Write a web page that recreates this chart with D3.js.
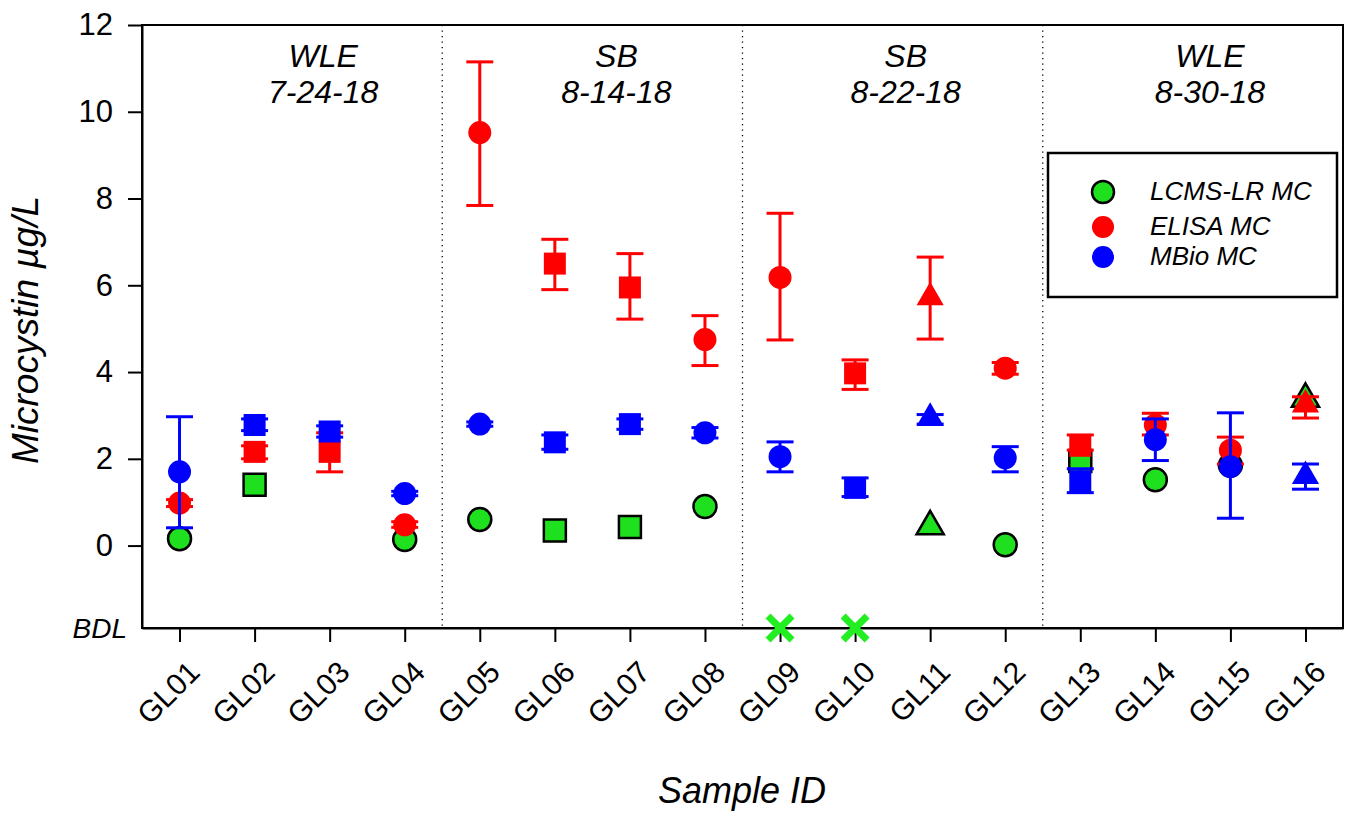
<!DOCTYPE html>
<html><head><meta charset="utf-8">
<script src="https://cdn.jsdelivr.net/npm/d3@7"></script>
<style>
body{margin:0;background:#fff}
svg text{font-family:"Liberation Sans",Arial,sans-serif;fill:#000}
</style>
</head><body>
<svg id="chart" width="1346" height="814"></svg>
<script>
// ---------------- data ----------------
const samples = ["GL01","GL02","GL03","GL04","GL05","GL06","GL07","GL08","GL09","GL10","GL11","GL12","GL13","GL14","GL15","GL16"];
const shapes  = ["circle","square","square","circle","circle","square","square","circle","circle","square","triangle","circle","square","circle","circle","triangle"];
// LCMS-LR MC (null = not shown, "BDL" = below detection limit)
const lcms    = [0.16,1.40,null,0.14,0.60,0.35,0.43,0.90,"BDL","BDL",0.44,0.02,1.95,1.52,1.85,3.38];
// ELISA MC
const elisa   = [0.98,2.16,2.16,0.48,9.52,6.50,5.95,4.75,6.18,3.97,5.72,4.09,2.30,2.78,2.20,3.25];
const elisaLo = [0.90,2.00,1.70,0.42,7.84,5.90,5.22,4.15,4.74,3.60,4.76,3.95,2.20,2.55,1.88,2.94];
const elisaHi = [1.06,2.30,2.60,0.55,11.15,7.06,6.73,5.30,7.66,4.28,6.65,4.22,2.55,3.05,2.50,3.43];
// MBio MC
const mbio    = [1.70,2.78,2.63,1.20,2.80,2.38,2.80,2.60,2.05,1.33,2.94,2.02,1.48,2.44,1.82,1.60];
const mbioLo  = [0.41,2.65,2.50,1.15,2.75,2.22,2.68,2.48,1.70,1.13,2.80,1.70,1.22,1.96,0.63,1.30];
const mbioHi  = [2.97,2.92,2.76,1.25,2.85,2.55,2.92,2.72,2.39,1.56,3.02,2.28,1.77,2.92,3.06,1.88];
const yTicks  = [0,2,4,6,8,10,12];
const bdlValue = -1.9;
const groupSites = ["WLE","SB","SB","WLE"];
const groupDates = ["7-24-18","8-14-18","8-22-18","8-30-18"];
const groupSize = 4;
const seriesNames = ["LCMS-LR MC","ELISA MC","MBio MC"];
const seriesColors = ["#1ee01e","#ff0000","#0000ff"];

// ---------------- layout ----------------
const L = 142, R = 1343, T = 25, B = 628;
const svg = d3.select("#chart");
const x = d3.scalePoint().domain(samples).range([L, R]).padding(0.5);
const y = d3.scaleLinear().domain([bdlValue, 12]).range([B, T]);
const step = x.step();

// box
svg.append("rect").attr("x", L).attr("y", T).attr("width", R - L).attr("height", B - T)
  .attr("fill", "none").attr("stroke", "#000").attr("stroke-width", 2);

// group dividers
for (let g = 1; g < groupSites.length; g++) {
  const xv = x(samples[g * groupSize]) - step / 2;
  svg.append("line").attr("x1", xv).attr("x2", xv).attr("y1", T).attr("y2", B)
    .attr("stroke", "#000").attr("stroke-width", 1.3).attr("stroke-dasharray", "1.3,4.2");
}

// group labels (slightly right of panel centres, as in original)
const labelShift = [31, 24, 13, 17];
groupSites.forEach((s, g) => {
  const cx = (x(samples[g * groupSize]) + x(samples[g * groupSize + groupSize - 1])) / 2 + labelShift[g];
  svg.append("text").attr("x", cx).attr("y", 67).attr("text-anchor", "middle")
    .attr("font-size", 32).attr("font-style", "italic").text(s);
  svg.append("text").attr("x", cx).attr("y", 103).attr("text-anchor", "middle")
    .attr("font-size", 32).attr("font-style", "italic").text(groupDates[g]);
});

// y axis
const yAxis = d3.axisLeft(y).tickValues(yTicks).tickSize(14).tickSizeOuter(0).tickPadding(15);
const ya = svg.append("g").attr("transform", `translate(${L},0)`).call(yAxis);
ya.select(".domain").attr("stroke-width", 2);
ya.selectAll(".tick line").attr("stroke-width", 2);
ya.selectAll(".tick text").attr("font-size", 31).attr("font-family", "Liberation Sans, Arial, sans-serif").attr("fill", "#000");
svg.append("text").attr("x", L - 15).attr("y", y(bdlValue)).attr("dy", "0.36em")
  .attr("text-anchor", "end").attr("font-size", 28).attr("font-style", "italic").text("BDL");

// x axis
const xAxis = d3.axisBottom(x).tickSize(14).tickSizeOuter(0).tickFormat("");
const xa = svg.append("g").attr("transform", `translate(0,${B})`).call(xAxis);
xa.select(".domain").attr("stroke-width", 2);
xa.selectAll(".tick line").attr("stroke-width", 2);
svg.append("g").selectAll("text").data(samples).join("text")
  .attr("transform", d => `translate(${x(d) + 22},${B + 46}) rotate(-45)`)
  .attr("text-anchor", "end").attr("font-size", 30).text(d => d);

// axis titles
svg.append("text").attr("x", 742).attr("y", 803).attr("text-anchor", "middle")
  .attr("font-size", 36).attr("font-style", "italic").text("Sample ID");
svg.append("text").attr("transform", "translate(38,330) rotate(-90)").attr("text-anchor", "middle")
  .attr("font-size", 37).attr("font-style", "italic").text("Microcystin µg/L");

// marker helper
const symType = {circle: d3.symbolCircle, square: d3.symbolSquare, triangle: d3.symbolTriangle};
const symSize = {circle: 415, square: 484, triangle: 320};
function marker(g, shape, cx, cy, color, outline) {
  g.append("path").attr("d", d3.symbol(symType[shape], symSize[shape])())
    .attr("transform", `translate(${cx},${cy})`)
    .attr("fill", color)
    .attr("stroke", outline ? "#000" : "none").attr("stroke-width", outline ? 2.5 : 0);
}
function errbar(g, cx, lo, hi, color) {
  const capW = 13.5;
  g.append("line").attr("x1", cx).attr("x2", cx).attr("y1", y(lo)).attr("y2", y(hi))
    .attr("stroke", color).attr("stroke-width", 3);
  [lo, hi].forEach(v => g.append("line").attr("x1", cx - capW).attr("x2", cx + capW)
    .attr("y1", y(v)).attr("y2", y(v)).attr("stroke", color).attr("stroke-width", 3));
}

const plot = svg.append("g");
// LCMS (green)
samples.forEach((s, i) => {
  const v = lcms[i];
  if (v === null || v === "BDL") return;
  marker(plot, shapes[i], x(s), y(v), seriesColors[0], true);
});
// ELISA (red)
samples.forEach((s, i) => {
  errbar(plot, x(s), elisaLo[i], elisaHi[i], seriesColors[1]);
  marker(plot, shapes[i], x(s), y(elisa[i]), seriesColors[1], false);
});
// MBio (blue)
samples.forEach((s, i) => {
  errbar(plot, x(s), mbioLo[i], mbioHi[i], seriesColors[2]);
  marker(plot, shapes[i], x(s), y(mbio[i]), seriesColors[2], false);
});
// BDL crosses
samples.forEach((s, i) => {
  if (lcms[i] !== "BDL") return;
  const cx = x(s), cy = y(bdlValue), h = 12;
  svg.append("path").attr("d", `M${cx - h},${cy - h}L${cx + h},${cy + h}M${cx - h},${cy + h}L${cx + h},${cy - h}`)
    .attr("stroke", "#22ee22").attr("stroke-width", 7).attr("fill", "none");
});

// legend
const lg = svg.append("g");
lg.append("rect").attr("x", 1048).attr("y", 153).attr("width", 289).attr("height", 144)
  .attr("fill", "#fff").attr("stroke", "#000").attr("stroke-width", 2.5);
const legY = [192, 227, 257];
seriesNames.forEach((n, k) => {
  lg.append("circle").attr("cx", 1103).attr("cy", legY[k]).attr("r", 11)
    .attr("fill", seriesColors[k]).attr("stroke", k === 0 ? "#000" : "none").attr("stroke-width", 2.5);
  lg.append("text").attr("x", 1150).attr("y", legY[k] + 8).attr("font-size", 26)
    .attr("font-style", "italic").text(n);
});
</script>
</body></html>
